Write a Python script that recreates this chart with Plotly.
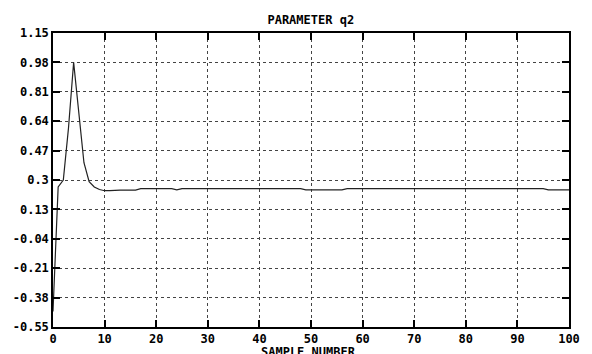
import plotly.graph_objects as go

samples = list(range(0, 101))
q2_head = [-0.46, 0.26, 0.30, 0.60, 0.98, 0.70, 0.40, 0.29, 0.26, 0.245,
           0.238, 0.238, 0.242, 0.242, 0.242, 0.242, 0.242]
q2_tail = ([0.25] * 7 + [0.243] + [0.25] * 24 + [0.243] * 8 + [0.25] * 39 + [0.243] * 5)
q2 = q2_head + q2_tail

y_ticks = [-0.55, -0.38, -0.21, -0.04, 0.13, 0.3, 0.47, 0.64, 0.81, 0.98, 1.15]
y_tick_text = ["-0.55", "-0.38", "-0.21", "-0.04", "0.13", "0.3", "0.47", "0.64", "0.81", "0.98", "1.15"]
x_ticks = [0, 10, 20, 30, 40, 50, 60, 70, 80, 90, 100]

font = dict(family="DejaVu Sans Mono", size=12, color="black", weight="bold")

fig = go.Figure()
fig.add_trace(go.Scatter(x=samples, y=q2, mode="lines",
                         line=dict(color="#222222", width=1.2), showlegend=False))

axis_common = dict(
    showline=True, linecolor="black", linewidth=1.5, mirror="ticks",
    ticks="inside", ticklen=7, tickwidth=1.5, tickcolor="black",
    showgrid=True, gridcolor="#444444", griddash="dot", gridwidth=1,
    zeroline=False, tickfont=font,
)

fig.update_layout(
    width=592, height=354,
    margin=dict(l=53, r=23, t=33, b=27),
    paper_bgcolor="white", plot_bgcolor="white",
    title=dict(text="PARAMETER q2", font=font, x=0.525, xanchor="center", y=0.945, yanchor="middle"),
    xaxis=dict(range=[0, 100], tickvals=x_ticks, automargin=False, **axis_common),
    yaxis=dict(range=[-0.55, 1.15], tickvals=y_ticks, ticktext=y_tick_text, automargin=False,
               **axis_common),
    annotations=[dict(text="SAMPLE NUMBER", font=font, xref="paper", yref="paper",
                      x=0.495, y=-0.085, xanchor="center", yanchor="middle", showarrow=False)],
)

fig.write_html(
    "out.html",
    config={"displayModeBar": False},
    post_script="document.body.style.margin='0';document.body.style.overflow='hidden';"
                "document.documentElement.style.overflow='hidden';",
)
